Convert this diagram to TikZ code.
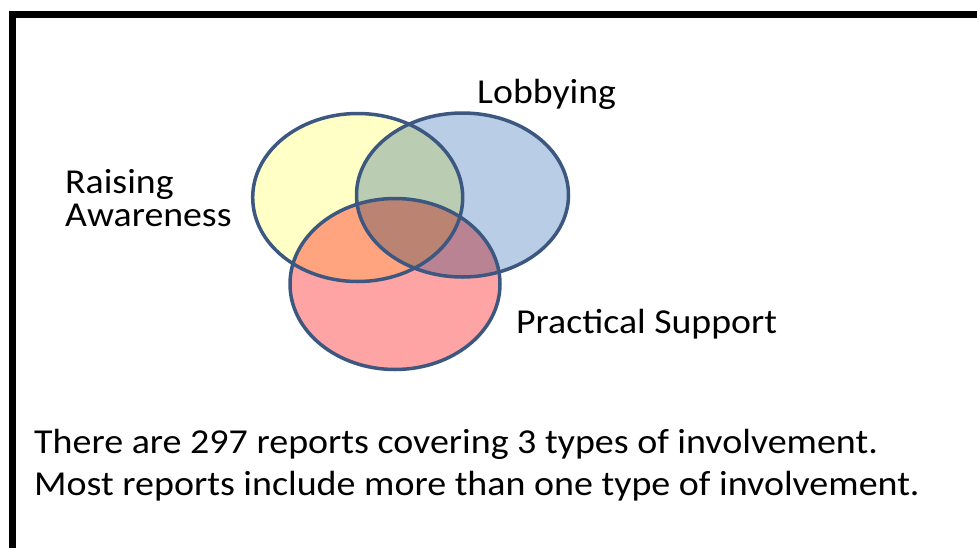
\documentclass[tikz,border=0pt]{standalone}
\usepackage{fontspec}
\setmainfont{Carlito}
\definecolor{yel}{RGB}{255,255,198}
\definecolor{blu}{RGB}{186,205,230}
\definecolor{rd}{RGB}{255,164,164}
\definecolor{edge}{RGB}{60,88,128}
\newcommand{\wide}[1]{\scalebox{1.08}[1]{#1}}
\begin{document}
\begin{tikzpicture}[x=1pt,y=-1pt,
  setshape/.style={line width=3.5pt, draw=edge},
  lbl/.style={inner sep=0pt, anchor=base west, font=\fontsize{35}{42}\selectfont},
  btm/.style={inner sep=0pt, anchor=base west, font=\fontsize{35}{42}\selectfont}]
\useasboundingbox (0,0) rectangle (977,547);
\fill[white] (0,0) rectangle (977,547);
\draw[line width=7pt] (12.5,560) -- (12.5,14.5) -- (990,14.5);
\begin{scope}[blend group=multiply]
  \fill[yel] (357.7,197.5) ellipse [x radius=105, y radius=84];
  \fill[blu] (462.5,195) ellipse [x radius=106, y radius=82];
  \fill[rd] (395,284) ellipse [x radius=105, y radius=85.5];
\end{scope}
\path[setshape] (357.7,197.5) ellipse [x radius=105, y radius=84];
\path[setshape] (462.5,195) ellipse [x radius=106, y radius=82];
\path[setshape] (395,284) ellipse [x radius=105, y radius=85.5];
\node[lbl] (lob) at (477,103.3) {\wide{Lobbying}};
\node[lbl] (ra1) at (65,193.3) {\wide{Raising}};
\node[lbl] (ra2) at (65,226) {\wide{Awareness}};
\node[lbl] (ps) at (516,333.3) {\wide{Practical Support}};
\node[btm] (t1) at (34,453.5) {\scalebox{1.085}[1]{There are 297 reports covering 3 types of involvement.}};
\node[btm] (t2) at (34,495) {\scalebox{1.085}[1]{Most reports include more than one type of involvement.}};
\end{tikzpicture}
\end{document}
